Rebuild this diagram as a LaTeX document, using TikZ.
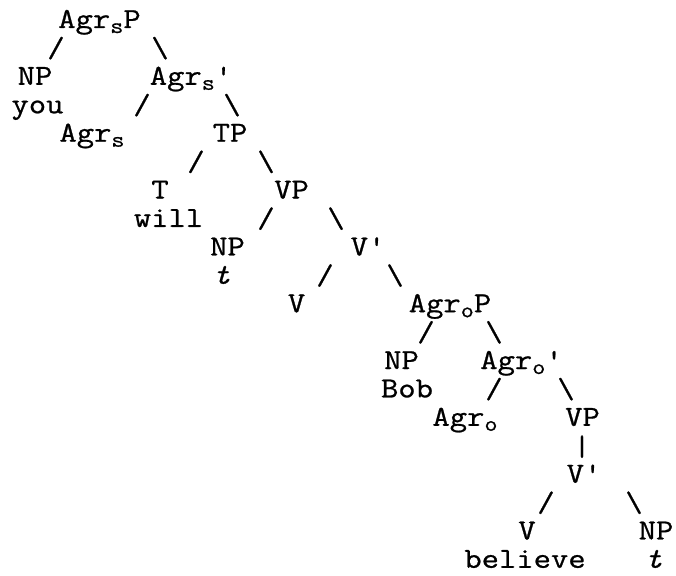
\documentclass[tikz,border=0pt]{standalone}
\usepackage{fontspec}
\newfontfamily\cour[FakeStretch=1.16,FakeBold=0.8]{Latin Modern Mono}
\newcommand{\sbs}[1]{\raisebox{-5pt}{\fontsize{22}{22}\selectfont #1}}
\tikzset{
  lbl/.style={font=\cour\fontsize{29}{29}\selectfont, inner sep=0pt, anchor=base},
  br/.style={lbl},
}
\begin{document}
\begin{tikzpicture}[x=1pt,y=-1pt]
\useasboundingbox[fill=white] (0,0) rectangle (676,575);
% row 0
\node[lbl] (agrsp) at (99.5,28) {Agr\sbs{s}P};
% row 1
\node[br] (b1l) at (56,57) {/};
\node[br] (b1r) at (160,57) {\textbackslash};
% row 2
\node[lbl] (np1) at (35,84.8) {NP};
\node[lbl] (agrsbar) at (191,84.8) {Agr\sbs{s}'};
% row 3
\node[lbl] (you) at (37.5,113.3) {you};
\node[br] (b3l) at (142,114) {/};
\node[br] (b3r) at (232,114) {\textbackslash};
% row 4
\node[lbl] (agrs) at (92,141.7) {Agr\sbs{s}};
\node[lbl] (tp) at (230,141.7) {TP};
% row 5
\node[br] (b5l) at (196,170.7) {/};
\node[br] (b5r) at (266,170.7) {\textbackslash};
% row 6
\node[lbl] (t) at (160,198.5) {T};
\node[lbl] (vp1) at (291.5,198.5) {VP};
% row 7
\node[lbl] (will) at (168.5,226.9) {will};
\node[br] (b7l) at (266,227.5) {/};
\node[br] (b7r) at (336,227.5) {\textbackslash};
% row 8
\node[lbl] (np2) at (227.5,255.4) {NP};
\node[lbl] (vbar1) at (368,255.4) {V'};
% row 9
\node[lbl] (tr1) at (221.5,283.8) {\itshape t};
\node[br] (b9l) at (325,284.4) {/};
\node[br] (b9r) at (395,284.4) {\textbackslash};
% row 10
\node[lbl] (v1) at (296.5,312.2) {V};
\node[lbl] (agrop) at (450,312.2) {Agr\sbs{o}P};
% row 11
\node[br] (b11l) at (426,341.2) {/};
\node[br] (b11r) at (494,341.2) {\textbackslash};
% row 12
\node[lbl] (np3) at (401.5,369) {NP};
\node[lbl] (agrobar) at (521.5,369) {Agr\sbs{o}'};
% row 13
\node[lbl] (bob) at (407,397.4) {Bob};
\node[br] (b13l) at (494,398) {/};
\node[br] (b13r) at (566,398) {\textbackslash};
% row 14
\node[lbl] (agro) at (465,425.8) {Agr\sbs{o}};
\node[lbl] (vp2) at (582.5,425.8) {VP};
% row 15
\node[br] (b15) at (582,455.5) {|};
% row 16
\node[lbl] (vbar2) at (584,482.6) {V'};
% row 17
\node[br] (b17l) at (546,511.6) {/};
\node[br] (b17r) at (634,511.6) {\textbackslash};
% row 18
\node[lbl] (v2) at (527,539.4) {V};
\node[lbl] (np4) at (656,539.4) {NP};
% row 19
\node[lbl] (believe) at (525,567.8) {believe};
\node[lbl] (tr2) at (653.5,567.8) {\itshape t};
\end{tikzpicture}
\end{document}
